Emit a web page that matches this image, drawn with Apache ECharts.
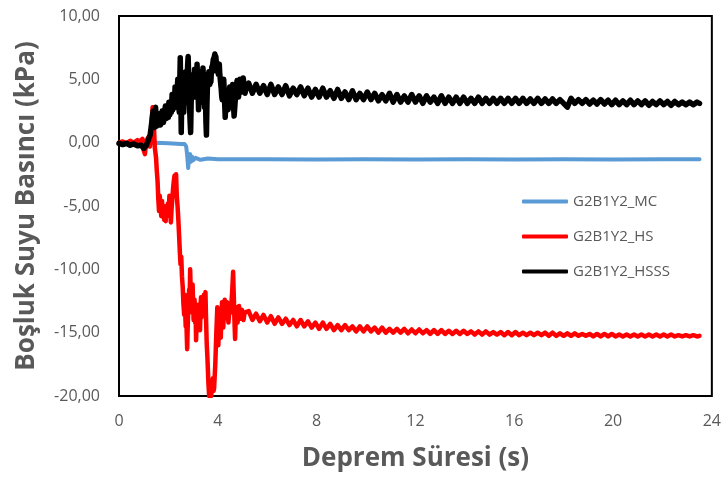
<!DOCTYPE html>
<html><head><meta charset="utf-8">
<script src="https://cdn.jsdelivr.net/npm/echarts@6/dist/echarts.min.js"></script>
<style>html,body{margin:0;padding:0;background:#fff}#c{width:724px;height:477px}</style>
</head><body><div id="c"></div>
<script>
const seriesNames = ['G2B1Y2_MC', 'G2B1Y2_HS', 'G2B1Y2_HSSS'];
const xTicks = [0, 4, 8, 12, 16, 20, 24];
const yTicks = [-20, -15, -10, -5, 0, 5, 10];

const mcData = [[0,-0.05],[0.5,-0.1],[1.0,-0.05],[1.5,0.0],[2.0,-0.05],[2.5,-0.1],[2.65,-0.1],[2.72,-0.3],[2.76,-1.0],[2.8,-2.0],[2.84,-1.2],[2.88,-0.9],[2.92,-1.5],[2.96,-1.1],[3.0,-1.4],[3.1,-1.2],[3.3,-1.35],[3.6,-1.25],[4,-1.3],[5,-1.3],[6,-1.3],[8,-1.32],[10,-1.3],[12,-1.32],[14,-1.3],[16,-1.32],[18,-1.3],[20,-1.32],[22,-1.3],[23.5,-1.3]];

const hsData = [[0,0.0],[0.15,0.1],[0.3,-0.05],[0.45,0.15],[0.6,0.0],[0.75,0.2],[0.85,0.1],[0.95,0.3],[1.0,-0.6],[1.05,-0.9],[1.1,0.1],[1.18,0.4],[1.25,-0.3],[1.3,1.0],[1.36,2.8],[1.4,2.0],[1.45,-0.4],[1.5,-1.2],[1.53,-2.2],[1.56,-3.0],[1.59,-4.4],[1.62,-5.4],[1.65,-4.2],[1.68,-4.8],[1.71,-5.8],[1.74,-4.6],[1.77,-5.6],[1.8,-5.0],[1.83,-6.1],[1.86,-5.4],[1.89,-6.2],[1.92,-5.0],[1.95,-5.8],[1.98,-4.8],[2.01,-5.6],[2.04,-4.2],[2.07,-5.4],[2.1,-6.3],[2.13,-5.2],[2.16,-4.4],[2.19,-3.6],[2.22,-3.0],[2.25,-2.6],[2.28,-3.4],[2.31,-2.5],[2.34,-4.2],[2.37,-5.0],[2.4,-6.0],[2.43,-7.2],[2.46,-8.5],[2.49,-9.6],[2.52,-9.0],[2.55,-10.6],[2.58,-11.4],[2.61,-12.8],[2.64,-13.6],[2.66,-12.0],[2.68,-13.4],[2.7,-14.5],[2.72,-13.2],[2.74,-15.0],[2.76,-16.3],[2.78,-14.6],[2.8,-13.5],[2.82,-12.4],[2.84,-11.6],[2.86,-12.6],[2.88,-10.0],[2.9,-11.4],[2.92,-12.8],[2.94,-11.8],[2.96,-13.4],[2.98,-11.2],[3.0,-12.6],[3.02,-14.0],[3.04,-13.0],[3.06,-12.4],[3.08,-14.2],[3.1,-13.0],[3.12,-15.6],[3.14,-14.4],[3.16,-13.4],[3.18,-14.0],[3.2,-12.8],[3.22,-13.0],[3.24,-14.6],[3.26,-13.2],[3.28,-14.8],[3.3,-13.0],[3.32,-12.2],[3.34,-13.8],[3.36,-12.8],[3.38,-13.5],[3.4,-12.4],[3.42,-13.2],[3.44,-12.0],[3.46,-12.8],[3.48,-12.2],[3.5,-11.8],[3.52,-13.6],[3.55,-15.8],[3.58,-17.0],[3.6,-18.0],[3.62,-19.0],[3.65,-20.0],[3.68,-19.0],[3.7,-19.4],[3.73,-20.0],[3.75,-20.0],[3.78,-19.0],[3.8,-18.6],[3.83,-19.6],[3.85,-19.4],[3.88,-18.2],[3.9,-17.4],[3.92,-16.2],[3.94,-15.0],[3.96,-14.0],[3.98,-13.0],[4.0,-14.6],[4.02,-16.0],[4.04,-15.0],[4.07,-14.0],[4.1,-14.8],[4.12,-15.4],[4.14,-14.0],[4.17,-12.6],[4.2,-13.8],[4.22,-14.6],[4.25,-13.4],[4.28,-12.4],[4.3,-13.0],[4.33,-13.8],[4.36,-13.0],[4.38,-12.6],[4.4,-13.4],[4.43,-14.2],[4.46,-13.4],[4.48,-12.8],[4.5,-13.0],[4.53,-13.4],[4.56,-12.4],[4.58,-11.8],[4.6,-11.0],[4.62,-10.2],[4.64,-11.6],[4.66,-13.0],[4.68,-14.4],[4.7,-15.5],[4.72,-14.2],[4.75,-13.0],[4.78,-13.6],[4.8,-14.2],[4.83,-13.4],[4.86,-12.9],[4.89,-13.6],[4.92,-13.9],[4.95,-13.4],[4.98,-13.2],[5.01,-13.8],[5.04,-14.0],[5.07,-13.6],[5.1,-13.4],
[5.25,-13.3],[5.40,-14.0],[5.55,-13.5],[5.70,-14.1],[5.85,-13.6],[6.00,-14.2],[6.15,-13.7],[6.30,-14.3],[6.45,-13.8],[6.60,-14.3],[6.75,-13.9],[6.90,-14.4],[7.05,-14.0],[7.20,-14.5],[7.35,-14.0],[7.50,-14.5],[7.65,-14.1],[7.80,-14.6],[7.95,-14.2],[8.10,-14.7],[8.25,-14.2],[8.40,-14.7],[8.55,-14.3],[8.70,-14.8],[8.85,-14.4],[9.00,-14.8],[9.15,-14.4],[9.30,-14.8],[9.45,-14.5],[9.60,-14.9],[9.75,-14.5],[9.90,-14.9],[10.05,-14.5],[10.20,-14.9],[10.35,-14.6],[10.50,-15.0],[10.65,-14.6],[10.80,-15.0],[10.95,-14.7],[11.10,-15.0],[11.25,-14.7],[11.40,-15.0],[11.55,-14.7],[11.70,-15.05],[11.85,-14.75],[12.00,-15.05],[12.15,-14.75],[12.30,-15.05],[12.45,-14.8],[12.60,-15.1],[12.75,-14.8],[12.90,-15.1],[13.05,-14.8],[13.20,-15.1],[13.35,-14.85],[13.50,-15.1],[13.65,-14.85],[13.80,-15.1],[13.95,-14.85],[14.10,-15.1],[14.25,-14.9],[14.40,-15.15],[14.55,-14.9],[14.70,-15.15],[14.85,-14.9],[15.00,-15.15],[15.15,-14.95],[15.30,-15.15],[15.45,-14.95],[15.60,-15.2],[15.75,-14.95],[15.90,-15.2],[16.05,-14.95],[16.20,-15.2],[16.35,-15.0],[16.50,-15.2],[16.65,-15.0],[16.80,-15.2],[16.95,-15.0],[17.10,-15.2],[17.25,-15.0],[17.40,-15.25],[17.55,-15.0],[17.70,-15.25],[17.85,-15.05],[18.00,-15.25],[18.15,-15.05],[18.30,-15.25],[18.45,-15.05],[18.60,-15.25],[18.75,-15.1],[18.90,-15.25],[19.05,-15.1],[19.20,-15.3],[19.35,-15.1],[19.50,-15.3],[19.65,-15.1],[19.80,-15.3],[19.95,-15.1],[20.10,-15.3],[20.25,-15.15],[20.40,-15.3],[20.55,-15.15],[20.70,-15.3],[20.85,-15.15],[21.00,-15.3],[21.15,-15.15],[21.30,-15.3],[21.45,-15.15],[21.60,-15.3],[21.75,-15.15],[21.90,-15.3],[22.05,-15.15],[22.20,-15.3],[22.35,-15.15],[22.50,-15.3],[22.65,-15.2],[22.80,-15.3],[22.95,-15.2],[23.10,-15.3],[23.25,-15.2],[23.40,-15.3],[23.50,-15.25]];

const hsssData = [[0,-0.05],[0.15,-0.15],[0.3,-0.05],[0.45,-0.2],[0.6,-0.1],[0.75,-0.25],[0.9,-0.2],[1.0,-0.45],[1.1,-0.25],[1.18,-0.35],[1.26,0.6],[1.32,1.5],[1.38,2.5],[1.43,1.2],[1.48,2.8],[1.52,1.3],[1.55,2.0],[1.6,1.4],[1.64,2.3],[1.68,1.4],[1.72,2.0],[1.75,2.5],[1.8,1.6],[1.84,2.4],[1.88,2.9],[1.92,1.9],[1.95,2.5],[2.0,2.0],[2.02,3.2],[2.06,2.2],[2.08,2.9],[2.12,2.4],[2.15,3.8],[2.18,2.6],[2.2,3.2],[2.24,2.8],[2.27,4.4],[2.3,3.2],[2.32,2.8],[2.35,4.0],[2.38,5.0],[2.41,3.2],[2.44,2.4],[2.46,4.8],[2.48,6.7],[2.5,4.0],[2.52,0.8],[2.54,3.4],[2.56,4.6],[2.58,3.6],[2.6,5.2],[2.62,2.4],[2.64,4.0],[2.66,4.8],[2.68,3.6],[2.7,5.6],[2.72,4.2],[2.74,3.2],[2.76,5.0],[2.78,6.2],[2.8,6.8],[2.82,5.2],[2.84,4.0],[2.86,2.6],[2.88,1.6],[2.9,0.8],[2.92,3.0],[2.94,4.6],[2.96,5.2],[2.98,3.8],[3.0,4.4],[3.02,5.4],[3.04,4.4],[3.06,5.8],[3.08,4.4],[3.1,3.6],[3.12,5.4],[3.14,4.6],[3.16,6.2],[3.18,5.0],[3.2,4.0],[3.22,2.6],[3.24,4.8],[3.26,5.6],[3.28,4.6],[3.3,5.2],[3.32,4.0],[3.34,3.2],[3.36,5.2],[3.38,4.6],[3.4,5.9],[3.42,4.8],[3.44,4.0],[3.46,2.8],[3.48,4.4],[3.5,3.6],[3.52,1.6],[3.54,0.6],[3.56,3.0],[3.58,4.5],[3.6,5.4],[3.62,4.8],[3.64,5.6],[3.66,5.0],[3.68,4.6],[3.7,5.4],[3.72,4.8],[3.74,5.6],[3.76,6.0],[3.78,5.6],[3.8,6.3],[3.82,6.6],[3.84,6.1],[3.86,6.8],[3.88,7.0],[3.9,6.6],[3.92,6.8],[3.94,6.3],[3.96,6.0],[3.98,5.6],[4.0,5.9],[4.02,5.4],[4.04,6.0],[4.06,6.2],[4.08,5.4],[4.1,5.0],[4.12,4.6],[4.14,4.2],[4.16,3.6],[4.18,3.4],[4.2,4.4],[4.22,4.0],[4.24,5.0],[4.26,4.0],[4.28,3.0],[4.3,2.0],[4.32,2.8],[4.34,3.6],[4.36,3.8],[4.38,3.4],[4.4,3.0],[4.42,2.6],[4.44,3.4],[4.46,4.0],[4.48,4.4],[4.5,3.8],[4.52,3.4],[4.54,3.0],[4.56,3.6],[4.58,4.2],[4.6,4.6],[4.62,3.8],[4.64,2.8],[4.66,2.1],[4.68,2.6],[4.7,3.2],[4.72,3.6],[4.74,4.2],[4.76,4.6],[4.78,4.9],[4.8,4.4],[4.82,4.0],[4.84,3.6],[4.86,4.2],[4.88,4.6],[4.9,5.0],[4.92,4.6],[4.94,4.2],[4.96,4.0],[4.98,4.4],[5.0,4.6],[5.03,5.1],[5.07,4.4],[5.1,3.9],[5.17,4.5],
[5.25,4.7],[5.40,3.9],[5.55,4.6],[5.70,3.9],[5.85,4.5],[6.00,3.8],[6.15,4.6],[6.30,3.8],[6.45,4.4],[6.60,3.8],[6.75,4.5],[6.90,3.7],[7.05,4.3],[7.20,3.8],[7.35,4.4],[7.50,3.7],[7.65,4.3],[7.80,3.6],[7.95,4.2],[8.10,3.6],[8.25,4.3],[8.40,3.6],[8.55,4.1],[8.70,3.5],[8.85,4.2],[9.00,3.5],[9.15,4.0],[9.30,3.4],[9.45,4.1],[9.60,3.4],[9.75,3.9],[9.90,3.4],[10.05,4.0],[10.20,3.4],[10.35,3.9],[10.50,3.3],[10.65,3.8],[10.80,3.3],[10.95,3.9],[11.10,3.2],[11.25,3.8],[11.40,3.2],[11.55,3.7],[11.70,3.2],[11.85,3.8],[12.00,3.2],[12.15,3.7],[12.30,3.1],[12.45,3.7],[12.60,3.2],[12.75,3.6],[12.90,3.1],[13.05,3.7],[13.20,3.1],[13.35,3.6],[13.50,3.1],[13.65,3.6],[13.80,3.1],[13.95,3.6],[14.10,3.1],[14.25,3.5],[14.40,3.1],[14.55,3.6],[14.70,3.1],[14.85,3.5],[15.00,3.1],[15.15,3.5],[15.30,3.1],[15.45,3.5],[15.60,3.1],[15.75,3.5],[15.90,3.1],[16.05,3.5],[16.20,3.1],[16.35,3.5],[16.50,3.1],[16.65,3.45],[16.80,3.1],[16.95,3.5],[17.10,3.1],[17.25,3.45],[17.40,3.1],[17.55,3.45],[17.70,3.1],[17.85,3.4],[18.00,3.1],[18.15,2.8],[18.30,3.5],[18.45,3.1],[18.60,3.4],[18.75,3.1],[18.90,3.4],[19.05,3.05],[19.20,3.35],[19.35,3.05],[19.50,3.4],[19.65,3.05],[19.80,3.35],[19.95,3.0],[20.10,3.35],[20.25,3.0],[20.40,3.3],[20.55,3.0],[20.70,3.35],[20.85,3.0],[21.00,3.3],[21.15,3.0],[21.30,3.3],[21.45,2.95],[21.60,3.25],[21.75,3.0],[21.90,3.3],[22.05,3.0],[22.20,3.25],[22.35,2.95],[22.50,3.25],[22.65,3.0],[22.80,3.2],[22.95,3.0],[23.10,3.2],[23.25,3.0],[23.40,3.2],[23.50,3.1]];

const colors = ['#5B9BD5', '#FF0000', '#000000'];
const lineWidths = [4, 4.5, 5.5];
const dataSets = [mcData, hsData, hsssData];

const FONT = '"Open Sans", sans-serif';
const GRAY = '#595959';

const chart = echarts.init(document.getElementById('c'), null, {renderer: 'canvas'});
chart.setOption({
  animation: false,
  backgroundColor: '#fff',
  grid: {left: 119, right: 12, top: 16, bottom: 81, show: true, borderColor: '#000', borderWidth: 2, backgroundColor: 'transparent'},
  legend: {
    orient: 'vertical', left: 517, top: 189, itemGap: 20,
    itemWidth: 46, itemHeight: 4, icon: 'roundRect',
    textStyle: {color: GRAY, fontSize: 15, fontFamily: FONT},
    data: seriesNames
  },
  xAxis: {
    type: 'value', min: xTicks[0], max: xTicks[xTicks.length - 1], interval: 4,
    axisLine: {show: false}, axisTick: {show: false}, splitLine: {show: false},
    axisLabel: {color: GRAY, fontSize: 16, fontFamily: FONT, margin: 17},
    name: 'Deprem Süresi (s)', nameLocation: 'middle', nameGap: 50,
    nameTextStyle: {color: GRAY, fontSize: 26, fontWeight: 'bold', fontFamily: FONT}
  },
  yAxis: {
    type: 'value', min: yTicks[0], max: yTicks[yTicks.length - 1], interval: 5,
    axisLine: {show: false}, axisTick: {show: false}, splitLine: {show: false},
    axisLabel: {color: GRAY, fontSize: 16, fontFamily: FONT, margin: 19,
      formatter: v => v.toFixed(2).replace('.', ',')},
    name: 'Boşluk Suyu Basıncı (kPa)', nameLocation: 'middle', nameGap: 79,
    nameTextStyle: {color: GRAY, fontSize: 26, fontWeight: 'bold', fontFamily: FONT}
  },
  series: seriesNames.map((n, i) => ({
    name: n, type: 'line', data: dataSets[i], showSymbol: false, symbol: 'none',
    lineStyle: {color: colors[i], width: lineWidths[i], join: 'round', cap: 'round'},
    itemStyle: {color: colors[i]}, z: 2 + i
  }))
});
</script>
</body></html>
